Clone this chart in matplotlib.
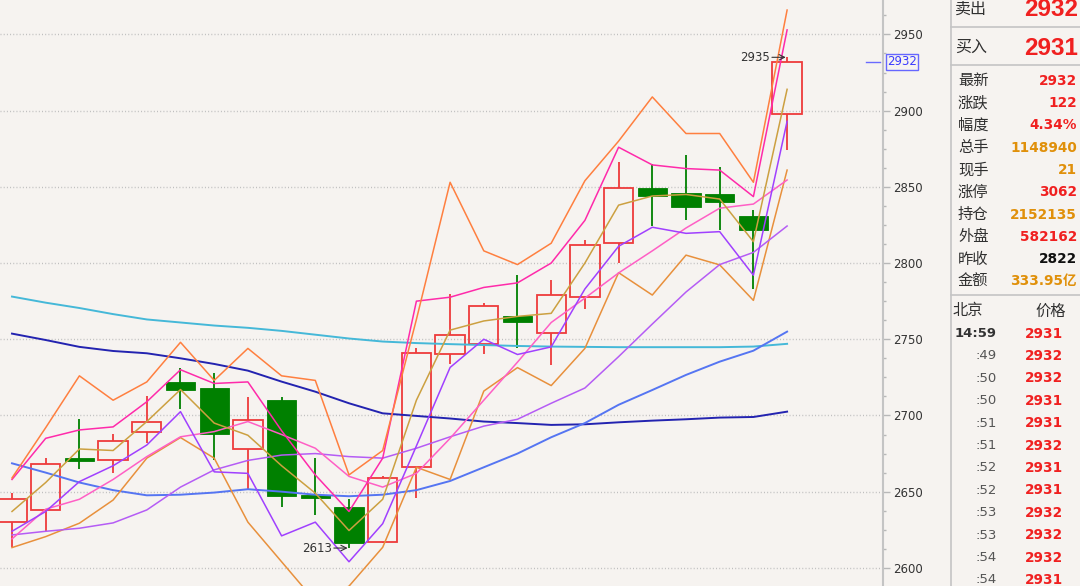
import matplotlib
matplotlib.use('Agg')
import numpy as np
import matplotlib.pyplot as plt
from matplotlib.patches import Rectangle
from matplotlib.lines import Line2D
from matplotlib.ticker import MultipleLocator, FixedLocator

W, H = 1080, 586
bg = '#F6F3F0'

# ---------------- data ----------------
opens  = [2630, 2638, 2672, 2671, 2689, 2722, 2718, 2678, 2710, 2648, 2640, 2617,
          2666, 2740, 2747, 2765, 2754, 2778, 2813, 2849, 2846, 2845, 2831, 2898]
highs  = [2649, 2672, 2698, 2688, 2713, 2731, 2728, 2712, 2712, 2672, 2645, 2660,
          2744, 2780, 2774, 2792, 2789, 2815, 2866, 2865, 2871, 2863, 2835, 2935]
lows   = [2614, 2624, 2665, 2662, 2682, 2704, 2671, 2652, 2640, 2635, 2613, 2616,
          2646, 2734, 2740, 2744, 2733, 2770, 2800, 2824, 2828, 2822, 2783, 2874]
closes = [2645, 2668, 2670, 2683, 2696, 2717, 2688, 2697, 2647, 2646, 2616, 2659,
          2741, 2753, 2772, 2761, 2779, 2812, 2849, 2844, 2837, 2840, 2822, 2932]

line_orange_hi = [2659, 2692, 2726, 2710, 2722, 2748, 2723, 2744, 2726, 2723, 2661, 2677,
                  2763, 2853, 2808, 2799, 2813, 2854, 2880, 2909, 2885, 2885, 2853, 2966]
line_hotpink   = [2658, 2685, 2690.5, 2692.5, 2709, 2730, 2721, 2722, 2690, 2661, 2637, 2672,
                  2775, 2777.6, 2784, 2787, 2800, 2828, 2876, 2864.4, 2862, 2861, 2843.6, 2953]
line_olive     = [2637, 2656, 2678, 2677, 2696, 2717, 2695, 2687, 2667, 2649, 2624.5, 2645,
                  2710, 2756, 2762, 2765, 2767, 2800, 2838, 2844, 2845, 2842, 2814, 2914]
line_purple    = [2624, 2637, 2656.6, 2667, 2680.6, 2702.5, 2663, 2662, 2621, 2630, 2604, 2629,
                  2680, 2731.5, 2750, 2740, 2745, 2783, 2811, 2823.5, 2819.5, 2820.6, 2792, 2893]
line_lightpink = [2619, 2638.5, 2645, 2658, 2673, 2686, 2689.4, 2696, 2687.5, 2678.5, 2660, 2653,
                  2662, 2685, 2710, 2735, 2761, 2777, 2793.5, 2808, 2823, 2836, 2838.7, 2854.5]
line_violet    = [2621.6, 2624, 2626, 2629.5, 2638, 2653, 2664.3, 2670.5, 2674, 2675, 2673, 2672,
                  2678.5, 2686, 2693, 2697.5, 2708, 2718, 2738.6, 2760, 2781, 2799, 2807, 2824.3]
line_orange_lo = [2613.3, 2620.5, 2629.3, 2644.5, 2672, 2685.5, 2672, 2630, 2604, 2578, 2588, 2613.5,
                  2666, 2658, 2716, 2731.4, 2719.6, 2744, 2793.7, 2779, 2805.2, 2798.8, 2775.5, 2861]
line_blue      = [2668.6, 2662.5, 2656, 2651, 2647.6, 2648, 2649.4, 2651.6, 2650, 2648, 2647, 2648,
                  2651, 2657, 2666, 2675, 2685.7, 2695, 2707, 2716.7, 2726.6, 2735.3, 2742.5, 2755]
line_navy      = [2753.7, 2749.5, 2745, 2742.3, 2740.8, 2737.5, 2733.8, 2729.4, 2722.2, 2715.6, 2708, 2701.4,
                  2699.7, 2698, 2696, 2695, 2693.8, 2694.2, 2695.5, 2696.6, 2697.5, 2698.6, 2699, 2702.5]
line_cyan      = [2778, 2774, 2770.5, 2766.5, 2763, 2761, 2759, 2757.5, 2755.5, 2753, 2750.5, 2748.5,
                  2747.5, 2746.8, 2746.2, 2745.6, 2745.2, 2745, 2744.8, 2744.8, 2744.8, 2744.8, 2745.2, 2747]

price_ticks = [2600, 2650, 2700, 2750, 2800, 2850, 2900, 2950]
last_price = 2932
ask_label, ask_price = '卖出', '2932'
bid_label, bid_price = '买入', '2931'
quote_labels = ['最新', '涨跌', '幅度', '总手', '现手', '涨停', '持仓', '外盘', '昨收', '金额']
quote_values = ['2932', '122', '4.34%', '1148940', '21', '3062', '2152135', '582162', '2822', '333.95亿']
trade_times = ['14:59', ':49', ':50', ':50', ':51', ':51', ':52', ':52', ':53', ':53', ':54', ':54']
trade_prices = ['2931', '2932', '2932', '2931', '2931', '2932', '2931', '2931', '2932', '2932', '2932', '2931']

# ---------------- styles ----------------
RED = '#EE3B3B'
GREEN = '#008000'
CJK = ['Noto Sans CJK SC', 'DejaVu Sans']
GOLD = '#E0900A'
QRED = '#F02020'
quote_colors = [QRED, QRED, QRED, GOLD, GOLD, QRED, GOLD, QRED, '#101010', GOLD]

fig = plt.figure(figsize=(W / 100, H / 100), dpi=100, facecolor=bg)
ax = fig.add_axes([0, 0, 883 / W, 1])
ax.set_facecolor(bg)
ax.set_xlim(-12 / 33.7, (883 - 12) / 33.7)
ax.set_ylim(2588.1, 2972.6)

x = np.arange(len(opens))
bw = 0.87
for i, (o, h, l, c) in enumerate(zip(opens, highs, lows, closes)):
    top, bot = max(o, c), min(o, c)
    if c >= o:
        ax.vlines(i, top, h, color=RED, lw=1.3, zorder=2)
        ax.vlines(i, l, bot, color=RED, lw=1.3, zorder=2)
        ax.add_patch(Rectangle((i - bw / 2, bot), bw, top - bot, fc='none',
                               ec=RED, lw=1.3, zorder=2))
    else:
        ax.vlines(i, l, h, color=GREEN, lw=1.3, zorder=2)
        ax.add_patch(Rectangle((i - bw / 2, bot), bw, max(top - bot, 0.8), fc=GREEN,
                               ec=GREEN, lw=0.6, zorder=2))

series = [
    (line_cyan, '#45B8D8', 1.4),
    (line_navy, '#2323B0', 1.4),
    (line_blue, '#5575F2', 1.4),
    (line_orange_lo, '#E8903C', 1.1),
    (line_violet, '#B55CF5', 1.1),
    (line_lightpink, '#FF5FC5', 1.1),
    (line_purple, '#A040FF', 1.1),
    (line_olive, '#CCA040', 1.1),
    (line_hotpink, '#FF2AAA', 1.1),
    (line_orange_hi, '#FF7F3F', 1.1),
]
for vals, col, lw in series:
    ax.plot(x, vals, color=col, lw=lw, zorder=3, solid_joinstyle='round')

# high / low annotations
ih = int(np.argmax(highs))
il = int(np.argmin(lows))
for idx, val in [(ih, highs[ih]), (il, lows[il])]:
    ax.text(idx - 0.5, val, f'{val:.0f}', ha='right', va='center', fontsize=8.5,
            color='#333333', zorder=5)
    ax.annotate('', xy=(idx - 0.04, val), xytext=(idx - 0.45, val),
                arrowprops=dict(arrowstyle='->', color='#333333', lw=0.8,
                                shrinkA=0, shrinkB=0), zorder=5)

# grid + axis
ax.set_yticks(price_ticks)
ax.yaxis.set_minor_locator(MultipleLocator(12.5))
ax.yaxis.grid(True, which='major', linestyle=(0, (0.7, 1.6)), color='#BDBDBD', lw=1.0)
ax.set_axisbelow(True)
ax.yaxis.tick_right()
ax.tick_params(axis='y', which='major', length=5, width=1, color='#B8B8B8', pad=2,
               labelsize=8.5, labelcolor='#333333')
ax.tick_params(axis='y', which='minor', length=2.5, width=1, color='#B8B8B8')
ax.set_xticks([])
for s in ['top', 'left', 'bottom']:
    ax.spines[s].set_visible(False)
ax.spines['right'].set_color('#C4C4C4')
ax.spines['right'].set_linewidth(1.5)

# last price marker
ax.plot([0.981, 0.997], [last_price, last_price], transform=ax.get_yaxis_transform(),
        color='#6A6AFF', lw=1, clip_on=False)
ax.text(1.0045, last_price, f'{last_price}', transform=ax.get_yaxis_transform(),
        ha='left', va='center', fontsize=8.5, color='#3A3AFF', zorder=6,
        bbox=dict(boxstyle='square,pad=0.12', fc=bg, ec='#6666FF', lw=1))


# ---------------- right panel ----------------
def ftext(px, py, s, **kw):
    fig.text(px / W, 1 - py / H, s, va='center', **kw)


def hline(py, x0=951, x1=W, **kw):
    fig.add_artist(Line2D([x0 / W, x1 / W], [1 - py / H, 1 - py / H], **kw))


fig.add_artist(Line2D([951 / W, 951 / W], [0, 1], color='#C4C4C4', lw=1.2))
for py in [26.5, 65, 295]:
    hline(py, color='#C4C4C4', lw=1.2)

ftext(955, 9.5, ask_label, fontsize=11.5, family=CJK, color='#303030')
ftext(955, 47.5, bid_label, fontsize=11.5, family=CJK, color='#303030')
ftext(1078, 10, ask_price, fontsize=17.5, family='Liberation Sans', weight='bold',
      color='#F02020', ha='right')
ftext(1078, 48.5, bid_price, fontsize=17.5, family='Liberation Sans', weight='bold',
      color='#F02020', ha='right')

for k, (lab, val, col) in enumerate(zip(quote_labels, quote_values, quote_colors)):
    py = 80.8 + 22.3 * k
    ftext(958, py, lab, fontsize=11, family=CJK, color='#303030')
    ftext(1077, py, val, fontsize=9.8, family=['DejaVu Sans', 'Noto Sans CJK SC'],
          weight='bold', color=col, ha='right')

ftext(953, 311, '北京', fontsize=11, family=CJK, color='#303030')
ftext(1035, 311, '价格', fontsize=11, family=CJK, color='#303030')
for k, (t, p) in enumerate(zip(trade_times, trade_prices)):
    py = 333.5 + 22.4 * k
    ftext(997, py, t, fontsize=9.5, family='DejaVu Sans',
          weight='bold' if k == 0 else 'normal',
          color='#333333' if k == 0 else '#555555', ha='right')
    ftext(1063, py, p, fontsize=9.8, family='DejaVu Sans', weight='bold',
          color='#F02020', ha='right')

fig.savefig('out.png', dpi=100, facecolor=bg)
